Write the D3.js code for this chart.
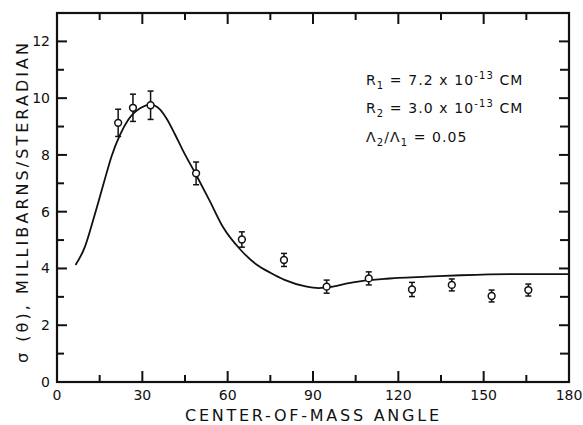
<!DOCTYPE html>
<html>
<head>
<meta charset="utf-8">
<script src="https://cdn.jsdelivr.net/npm/d3@7"></script>
<style>
html,body{margin:0;padding:0;background:#fff;}
svg{display:block;}
text{font-family:"DejaVu Sans",sans-serif;fill:#111;}
</style>
</head>
<body>
<svg id="chart" width="583" height="425"></svg>
<script>
// Measured data points (center-of-mass angle, cross section, error)
const angles = [21.5, 26.7, 32.9, 48.9, 65.0, 79.8, 94.8, 109.6, 124.8, 138.8, 152.8, 165.7];
const sigma  = [9.13, 9.66, 9.75, 7.35, 5.02, 4.30, 3.36, 3.65, 3.26, 3.42, 3.03, 3.24];
const errors = [0.48, 0.48, 0.50, 0.40, 0.27, 0.23, 0.23, 0.23, 0.25, 0.21, 0.21, 0.21];

// Theoretical curve
const curveAngles = [6.5, 9.8, 12.7, 15, 17.4, 19.1, 22.1, 25, 29.5, 33, 36, 38.4, 41.5, 44.2, 48.9, 53.6, 58.3, 64.6, 70, 75, 80, 87.4, 92, 97, 102.6, 109.6, 115, 120, 130, 142, 160, 180];
const curveSigma  = [4.12, 4.76, 5.7, 6.5, 7.35, 7.93, 8.7, 9.23, 9.66, 9.77, 9.62, 9.3, 8.72, 8.17, 7.3, 6.4, 5.47, 4.65, 4.15, 3.85, 3.6, 3.37, 3.31, 3.36, 3.48, 3.59, 3.63, 3.67, 3.71, 3.76, 3.80, 3.80];

const xTicks = [0, 30, 60, 90, 120, 150, 180];
const xMinor = [15, 45, 75, 105, 135, 165];
const yTicks = [0, 2, 4, 6, 8, 10, 12];
const yMinor = [1, 3, 5, 7, 9, 11];

const svg = d3.select("#chart");
const L = 57, R = 569, T = 13, B = 382;
const x = d3.scaleLinear().domain([0, 180]).range([L, R]);
const y = d3.scaleLinear().domain([0, 13]).range([B, T]);

const ink = "#111";

// frame
svg.append("rect").attr("x", L).attr("y", T).attr("width", R - L).attr("height", B - T)
  .attr("fill", "none").attr("stroke", ink).attr("stroke-width", 2.2);

// inward ticks on all four sides
const tickSegs = [];
xTicks.slice(1, -1).forEach(d => { tickSegs.push([x(d), B, x(d), B - 11], [x(d), T, x(d), T + 11]); });
xMinor.forEach(d => { tickSegs.push([x(d), B, x(d), B - 7], [x(d), T, x(d), T + 7]); });
yTicks.slice(1).forEach(d => { tickSegs.push([L, y(d), L + 10, y(d)], [R, y(d), R - 10, y(d)]); });
yMinor.forEach(d => { tickSegs.push([L, y(d), L + 7, y(d)], [R, y(d), R - 9, y(d)]); });
svg.append("g").selectAll("line").data(tickSegs).join("line")
  .attr("x1", d => d[0]).attr("y1", d => d[1]).attr("x2", d => d[2]).attr("y2", d => d[3])
  .attr("stroke", ink).attr("stroke-width", 2);

// tick labels
svg.append("g").selectAll("text").data(xTicks).join("text")
  .attr("x", d => x(d)).attr("y", 400).attr("text-anchor", "middle").attr("font-size", 14)
  .text(d => d);
svg.append("g").selectAll("text").data(yTicks).join("text")
  .attr("x", 50).attr("y", d => y(d) + 5).attr("text-anchor", "end").attr("font-size", 14)
  .text(d => d);

// curve
const curvePts = curveAngles.map((a, i) => [a, curveSigma[i]]);
svg.append("path").datum(curvePts)
  .attr("fill", "none").attr("stroke", ink).attr("stroke-width", 1.8)
  .attr("d", d3.line().x(d => x(d[0])).y(d => y(d[1])).curve(d3.curveMonotoneX));

// error bars + points
const pts = angles.map((a, i) => ({a, s: sigma[i], e: errors[i]}));
const eb = svg.append("g");
pts.forEach(p => {
  const cx = x(p.a), ytop = y(p.s + p.e), ybot = y(p.s - p.e);
  [[cx, ytop, cx, ybot], [cx - 3, ytop, cx + 3, ytop], [cx - 3, ybot, cx + 3, ybot]].forEach(s => {
    eb.append("line").attr("x1", s[0]).attr("y1", s[1]).attr("x2", s[2]).attr("y2", s[3])
      .attr("stroke", ink).attr("stroke-width", 1.5);
  });
});
svg.append("g").selectAll("circle").data(pts).join("circle")
  .attr("cx", d => x(d.a)).attr("cy", d => y(d.s)).attr("r", 3.4)
  .attr("fill", "#fff").attr("stroke", ink).attr("stroke-width", 1.5);

// axis titles
svg.append("text").attr("x", 312).attr("y", 421).attr("text-anchor", "middle")
  .attr("font-size", 16).attr("textLength", 254).attr("lengthAdjust", "spacing")
  .text("CENTER-OF-MASS ANGLE");
svg.append("text").attr("transform", "translate(28,203) rotate(-90)").attr("text-anchor", "middle")
  .attr("font-size", 16).attr("textLength", 320).attr("lengthAdjust", "spacing")
  .text("σ (θ), MILLIBARNS/STERADIAN");

// annotation
const ann = svg.append("g").attr("font-size", 14).attr("letter-spacing", 1.1);
function line1(yb, sub, val) {
  const t = ann.append("text").attr("x", 366).attr("y", yb);
  t.append("tspan").text("R");
  t.append("tspan").attr("font-size", 10).attr("dy", 4).text(sub);
  t.append("tspan").attr("dy", -4).text(" = " + val + " x 10");
  t.append("tspan").attr("font-size", 10).attr("dy", -6).text("-13");
  t.append("tspan").attr("dy", 6).text(" CM");
}
line1(85, "1", "7.2");
line1(113, "2", "3.0");
const t3 = ann.append("text").attr("x", 366).attr("y", 142);
t3.append("tspan").text("Λ");
t3.append("tspan").attr("font-size", 10).attr("dy", 4).text("2");
t3.append("tspan").attr("dy", -4).text("/Λ");
t3.append("tspan").attr("font-size", 10).attr("dy", 4).text("1");
t3.append("tspan").attr("dy", -4).text(" = 0.05");
</script>
</body>
</html>
